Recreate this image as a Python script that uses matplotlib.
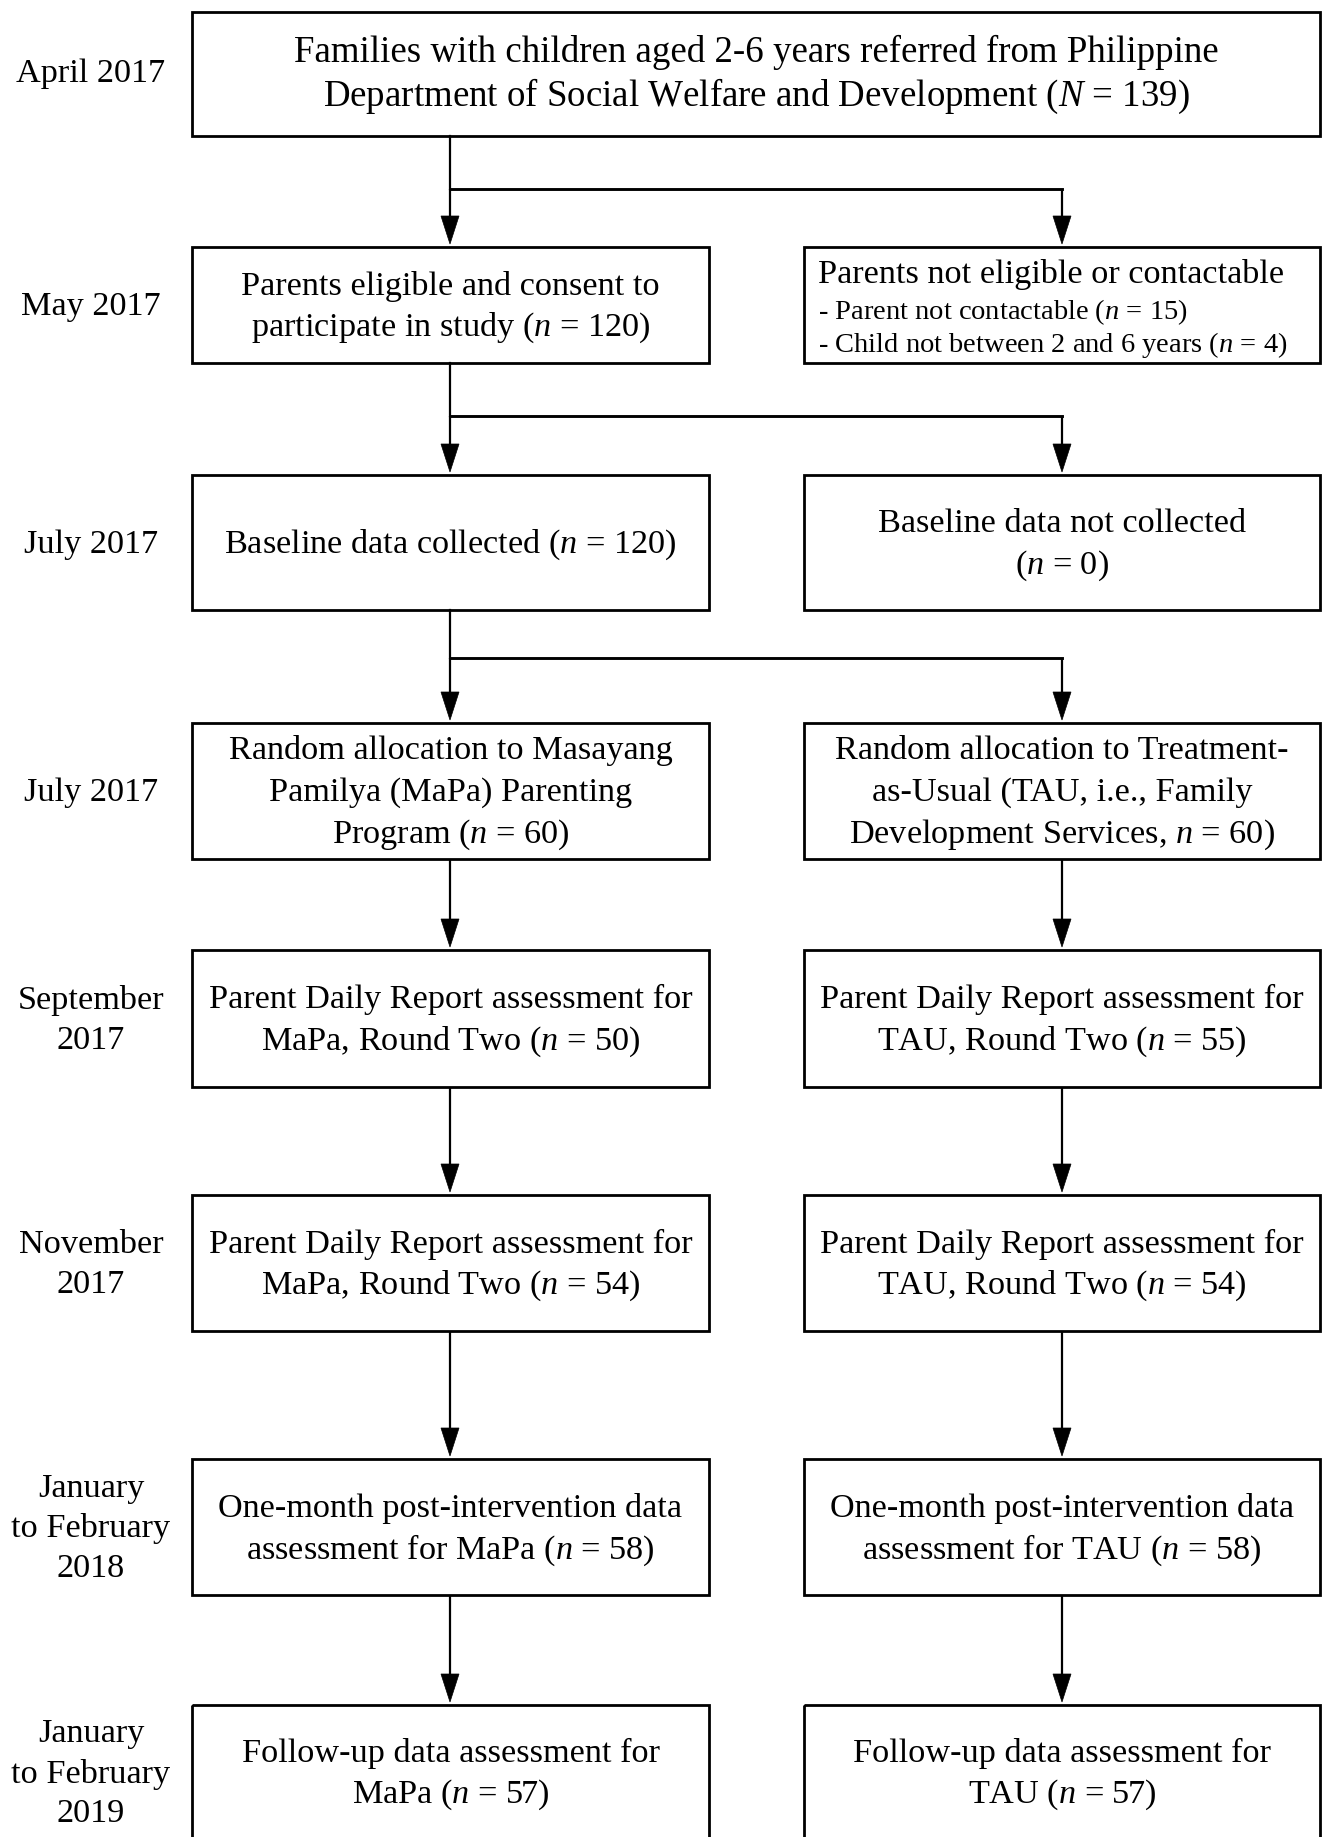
import matplotlib
matplotlib.use("Agg")
import matplotlib.pyplot as plt
from matplotlib.patches import Rectangle, Polygon

plt.rcParams['font.family'] = ['Liberation Serif', 'DejaVu Serif']
plt.rcParams['mathtext.fontset'] = 'custom'
plt.rcParams['mathtext.rm'] = 'Liberation Serif'
plt.rcParams['mathtext.it'] = 'Liberation Serif:italic'

# ---------------- content ----------------
date_labels = [
    ["April 2017"],
    ["May 2017"],
    ["July 2017"],
    ["July 2017"],
    ["September", "2017"],
    ["November", "2017"],
    ["January", "to February", "2018"],
    ["January", "to February", "2019"],
]
top_box_lines = ["Families with children aged 2-6 years referred from Philippine",
                 r"Department of Social Welfare and Development ($N$ = 139)"]
left_box_lines = [
    ["Parents eligible and consent to", r"participate in study ($n$ = 120)"],
    [r"Baseline data collected ($n$ = 120)"],
    ["Random allocation to Masayang", "Pamilya (MaPa) Parenting", r"Program ($n$ = 60)"],
    ["Parent Daily Report assessment for", r"MaPa, Round Two ($n$ = 50)"],
    ["Parent Daily Report assessment for", r"MaPa, Round Two ($n$ = 54)"],
    ["One-month post-intervention data", r"assessment for MaPa ($n$ = 58)"],
    ["Follow-up data assessment for", r"MaPa ($n$ = 57)"],
]
right_box_lines = [
    None,  # excluded box, drawn separately (left aligned)
    ["Baseline data not collected", r"($n$ = 0)"],
    ["Random allocation to Treatment-", "as-Usual (TAU, i.e., Family",
     r"Development Services, $n$ = 60)"],
    ["Parent Daily Report assessment for", r"TAU, Round Two ($n$ = 55)"],
    ["Parent Daily Report assessment for", r"TAU, Round Two ($n$ = 54)"],
    ["One-month post-intervention data", r"assessment for TAU ($n$ = 58)"],
    ["Follow-up data assessment for", r"TAU ($n$ = 57)"],
]
excluded_title = "Parents not eligible or contactable"
excluded_items = [r"- Parent not contactable ($n$ = 15)",
                  r"- Child not between 2 and 6 years ($n$ = 4)"]

# ---------------- layout ----------------
W, H = 1324, 1837
fig = plt.figure(figsize=(W / 100, H / 100), dpi=100)
ax = fig.add_axes([0, 0, 1, 1])
ax.set_xlim(0, W)
ax.set_ylim(H, 0)
ax.axis('off')

FS = 24.7
FS_TOP = 26.6
FS_SMALL = 20.5
LS = 42
BOX_LW = 2.0
LINE_LW = 1.6

top_box = (192, 12, 1320, 136)
lx0, lx1 = 192, 709
rx0, rx1 = 804, 1320
rows = [(247, 363), (475, 610), (723, 859), (950, 1087),
        (1195, 1331), (1459, 1595), (1705, 1860)]
date_x = 91
lcx = 450
rcx = 1062
branch_y = [189, 416, 658]


def box(x0, y0, x1, y1):
    ax.add_patch(Rectangle((x0, y0), x1 - x0, y1 - y0, fill=False,
                           edgecolor='black', lw=BOX_LW, clip_on=True))


def lines_text(x, cy, lines, fs=FS, ls=LS, ha='center'):
    n = len(lines)
    for i, t in enumerate(lines):
        y = cy + (i - (n - 1) / 2) * ls
        ax.text(x, y, t, ha=ha, va='center', fontsize=fs, color='black')


def arrow(x, y0, y1):
    hl, hw = 28, 9
    ax.plot([x, x], [y0, y1 - hl + 2], color='black', lw=LINE_LW,
            solid_capstyle='butt')
    ax.add_patch(Polygon([(x - hw, y1 - hl), (x + hw, y1 - hl), (x, y1)],
                         closed=True, facecolor='black', edgecolor='black',
                         lw=0.5))


# top box
box(*top_box)
lines_text((top_box[0] + top_box[2]) / 2, (top_box[1] + top_box[3]) / 2,
           top_box_lines, fs=FS_TOP, ls=44)
lines_text(date_x, (top_box[1] + top_box[3]) / 2, date_labels[0])

# rows
for i, (y0, y1) in enumerate(rows):
    box(lx0, y0, lx1, y1)
    cy = (y0 + y1) / 2 + 2 if i < len(rows) - 1 else 1774
    lines_text((lx0 + lx1) / 2, cy, left_box_lines[i])
    box(rx0, y0, rx1, y1)
    if right_box_lines[i] is not None:
        lines_text((rx0 + rx1) / 2, cy, right_box_lines[i])
    lines_text(date_x, cy, date_labels[i + 1], ls=40)

# excluded box text
ax.text(818, 275, excluded_title, ha='left', va='center', fontsize=FS)
ax.text(818, 312, excluded_items[0], ha='left', va='center', fontsize=FS_SMALL)
ax.text(818, 345, excluded_items[1], ha='left', va='center', fontsize=FS_SMALL)

# connectors
prev_bottom = top_box[3]
for i, (y0, y1) in enumerate(rows):
    gap_top = prev_bottom
    if i < 3:
        by = branch_y[i]
        ax.plot([lcx, lcx], [gap_top, by], color='black', lw=LINE_LW)
        ax.plot([lcx, rcx], [by, by], color='black', lw=LINE_LW * 1.3,
                solid_capstyle='projecting')
        arrow(lcx, by, y0 - 3)
        arrow(rcx, by, y0 - 3)
    else:
        arrow(lcx, gap_top, y0 - 3)
        arrow(rcx, gap_top, y0 - 3)
    prev_bottom = y1

fig.savefig("out.png", dpi=100, facecolor='white')
